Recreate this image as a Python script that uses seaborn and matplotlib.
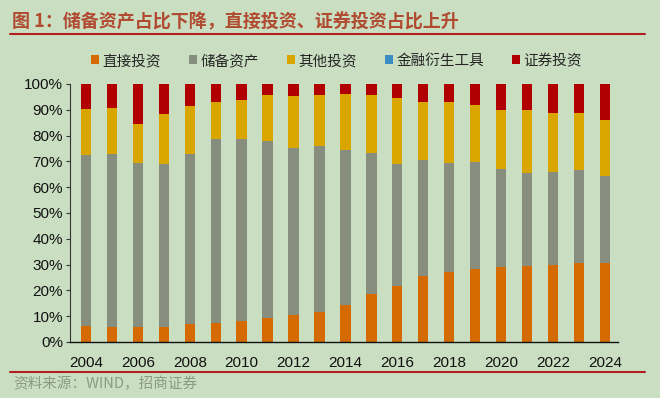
import matplotlib
matplotlib.use("Agg")
import matplotlib.pyplot as plt
import seaborn as sns
import pandas as pd
import numpy as np
from matplotlib.patches import Patch
from matplotlib.lines import Line2D

years = list(range(2004, 2025))
direct = [6.2, 5.6, 5.8, 5.6, 6.9, 7.5, 8.2, 9.2, 10.5, 11.4, 14.3, 18.6, 21.7, 25.7, 27.0, 28.4, 29.0, 29.4, 30.0, 30.6, 30.6]
reserve = [66.3, 67.4, 63.7, 63.5, 66.1, 71.2, 70.5, 68.6, 64.7, 64.6, 60.1, 54.6, 47.1, 44.8, 42.5, 41.2, 37.9, 35.9, 35.8, 36.0, 33.8]
other = [17.8, 17.6, 15.0, 19.3, 18.6, 14.4, 15.2, 17.9, 20.3, 19.7, 21.7, 22.5, 25.6, 22.7, 23.7, 22.1, 23.0, 24.6, 23.0, 22.1, 21.8]
deriv = [0.0, 0.0, 0.0, 0.0, 0.0, 0.0, 0.0, 0.0, 0.0, 0.0, 0.0, 0.0, 0.0, 0.0, 0.0, 0.0, 0.0, 0.0, 0.0, 0.0, 0.0]
securities = [9.7, 9.4, 15.5, 11.6, 8.4, 6.9, 6.1, 4.3, 4.5, 4.3, 3.9, 4.3, 5.6, 6.8, 6.8, 8.3, 10.1, 10.1, 11.2, 11.3, 13.8]

names = ["直接投资", "储备资产", "其他投资", "金融衍生工具", "证券投资"]
colors = ["#D46A00", "#878E7E", "#D9A600", "#3A8DC0", "#B00000"]
bg = "#CADFC2"

sns.set_theme(style="white")
plt.rcParams['font.family'] = ['Liberation Sans', 'Noto Sans CJK SC', 'DejaVu Sans']

series = [direct, reserve, other, deriv, securities]
df = pd.DataFrame({"year": [str(y) for y in years]})
cum = np.zeros(len(years))
cums = []
for s in series:
    cum = cum + np.array(s)
    cums.append(cum.copy())
total = cums[-1]
cums = [c / total * 100 for c in cums]

fig = plt.figure(figsize=(6.6, 3.98), dpi=100)
fig.patch.set_facecolor(bg)
ax = fig.add_axes([0.106, 0.141, 0.83, 0.648])
ax.set_facecolor(bg)

for i in range(len(series) - 1, -1, -1):
    d = pd.DataFrame({"year": df["year"], "v": cums[i]})
    sns.barplot(data=d, x="year", y="v", color=colors[i], width=0.4,
                saturation=1, ax=ax, linewidth=0)

ax.set_ylim(0, 100)
ax.set_xlim(-0.62, 20.5)
ax.set_yticks(np.arange(0, 101, 10))
ax.set_yticklabels([f"{v}%" for v in range(0, 101, 10)], fontsize=11, color="#111111")
ax.set_xticks(range(0, 21, 2))
ax.set_xticklabels([str(y) for y in years[::2]], fontsize=11, color="#111111")
ax.set_xlabel("")
ax.set_ylabel("")
for sp in ["top", "right"]:
    ax.spines[sp].set_visible(False)
ax.spines["left"].set_color("#333333")
ax.spines["left"].set_linewidth(0.8)
ax.spines["bottom"].set_color("#111111")
ax.spines["bottom"].set_linewidth(1.0)
ax.tick_params(axis="y", which="both", left=True, length=3, width=0.8, color="#333333", pad=2)
ax.tick_params(axis="x", bottom=False, pad=4)

handles = [Patch(facecolor=c, edgecolor="none") for c in colors]
fig.legend(handles, names, loc="center", bbox_to_anchor=(0.51, 0.847), ncol=5,
           frameon=False, handlelength=0.55, handleheight=0.55,
           handletextpad=0.25, columnspacing=1.9,
           prop={'family': ['Noto Sans CJK SC'], 'size': 10.5})

fig.text(0.018, 0.945, "图 1：储备资产占比下降，直接投资、证券投资占比上升", fontsize=13,
         color="#B04A30", family=['Noto Sans CJK SC'], va="center", ha="left", weight="bold")
fig.add_artist(Line2D([0.015, 0.978], [0.914, 0.914], color="#B02020", linewidth=1.5))
fig.add_artist(Line2D([0.015, 0.978], [0.066, 0.066], color="#B02020", linewidth=1.5))
fig.text(0.02, 0.035, "资料来源：WIND，招商证券", fontsize=10.5, color="#8A9A85",
         family=['Noto Sans CJK SC'], va="center", ha="left")

fig.savefig("out.png", dpi=100, facecolor=bg)
